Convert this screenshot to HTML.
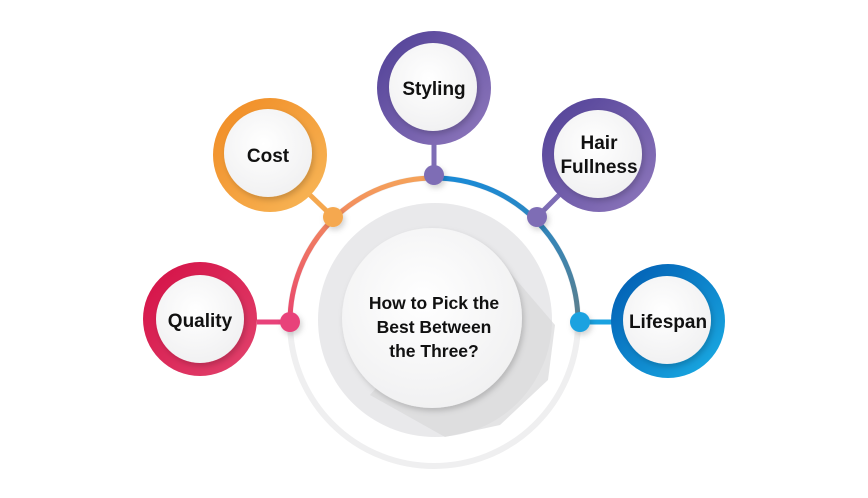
<!DOCTYPE html>
<html><head><meta charset="utf-8"><style>
html,body{margin:0;padding:0;background:#fff;width:868px;height:498px;overflow:hidden}
text{font-family:"Liberation Sans",sans-serif;font-weight:bold;fill:#111;text-anchor:middle}
</style></head><body>
<svg width="868" height="498" viewBox="0 0 868 498" xmlns="http://www.w3.org/2000/svg">
<defs>
<linearGradient id="gL" x1="0" y1="1" x2="0" y2="0"><stop offset="0" stop-color="#e8426e"/><stop offset="1" stop-color="#f5a25a"/></linearGradient>
<linearGradient id="gR" x1="0" y1="0" x2="0" y2="1"><stop offset="0" stop-color="#1a8ad6"/><stop offset="1" stop-color="#5f7f8a"/></linearGradient>
<linearGradient id="rq" x1="0" y1="0" x2="1" y2="1"><stop offset="0" stop-color="#d40f45"/><stop offset="1" stop-color="#e2446e"/></linearGradient>
<linearGradient id="rc" x1="0" y1="0" x2="1" y2="1"><stop offset="0" stop-color="#f08a22"/><stop offset="1" stop-color="#f8b85a"/></linearGradient>
<linearGradient id="rp" x1="0" y1="0" x2="1" y2="1"><stop offset="0" stop-color="#4f3f96"/><stop offset="1" stop-color="#9079bd"/></linearGradient>
<linearGradient id="rb" x1="0" y1="0" x2="1" y2="1"><stop offset="0" stop-color="#0058b0"/><stop offset="1" stop-color="#1bb0e6"/></linearGradient>
<radialGradient id="w" cx="0.45" cy="0.4" r="0.6"><stop offset="0" stop-color="#fff"/><stop offset="1" stop-color="#f1f1f2"/></radialGradient>
<filter id="sh" x="-30%" y="-30%" width="160%" height="160%"><feDropShadow dx="2" dy="3" stdDeviation="3" flood-color="#000" flood-opacity="0.18"/></filter>
</defs>
<circle cx="434" cy="322" r="144" fill="none" stroke="#efeff0" stroke-width="6"/>
<path d="M290 322 A144 144 0 0 1 434 178" fill="none" stroke="url(#gL)" stroke-width="5"/>
<path d="M434 178 A144 144 0 0 1 578 322" fill="none" stroke="url(#gR)" stroke-width="5"/>
<line x1="257" y1="322" x2="290" y2="322" stroke="#e8427a" stroke-width="5"/>
<line x1="612" y1="322" x2="580" y2="322" stroke="#1aa2e0" stroke-width="5"/>
<line x1="434" y1="143" x2="434" y2="176" stroke="#7e6db5" stroke-width="5"/>
<line x1="310" y1="195" x2="333" y2="217" stroke="#f5a84f" stroke-width="5"/>
<line x1="559" y1="195" x2="537" y2="217" stroke="#7e6db5" stroke-width="5"/>
<circle cx="435" cy="320" r="117" fill="#e9e9eb"/>
<path d="M495 255 L555 325 L548 380 L500 425 L445 437 L370 395 Z" fill="#d8d8da" opacity="0.7"/>
<circle cx="432" cy="318" r="90" fill="url(#w)" filter="url(#sh)"/>
<text x="434" y="309" font-size="17.5">How to Pick the</text>
<text x="434" y="333" font-size="17.5">Best Between</text>
<text x="434" y="357" font-size="17.5">the Three?</text>
<g filter="url(#sh)">
<circle cx="290" cy="322" r="10" fill="#e8427a"/>
<circle cx="333" cy="217" r="10" fill="#f5a84f"/>
<circle cx="434" cy="175" r="10" fill="#7e6db5"/>
<circle cx="537" cy="217" r="10" fill="#7e6db5"/>
<circle cx="580" cy="322" r="10" fill="#1aa2e0"/>
</g>
<g>
<circle cx="200" cy="319" r="57" fill="url(#rq)"/><circle cx="200" cy="319" r="44" fill="url(#w)" filter="url(#sh)"/>
<text x="200" y="327" font-size="19">Quality</text>
<circle cx="270" cy="155" r="57" fill="url(#rc)"/><circle cx="268" cy="153" r="44" fill="url(#w)" filter="url(#sh)"/>
<text x="268" y="162" font-size="19">Cost</text>
<circle cx="434" cy="88" r="57" fill="url(#rp)"/><circle cx="433" cy="87" r="44" fill="url(#w)" filter="url(#sh)"/>
<text x="434" y="95" font-size="19">Styling</text>
<circle cx="599" cy="155" r="57" fill="url(#rp)"/><circle cx="598" cy="154" r="44" fill="url(#w)" filter="url(#sh)"/>
<text x="599" y="149" font-size="19">Hair</text>
<text x="599" y="173" font-size="19">Fullness</text>
<circle cx="668" cy="321" r="57" fill="url(#rb)"/><circle cx="667" cy="320" r="44" fill="url(#w)" filter="url(#sh)"/>
<text x="668" y="328" font-size="19">Lifespan</text>
</g>
</svg>
</body></html>
